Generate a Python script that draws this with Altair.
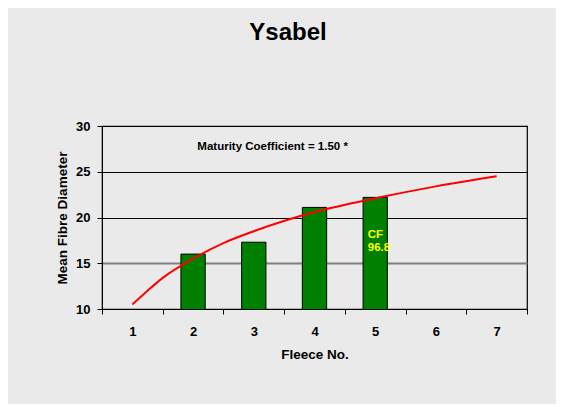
import altair as alt
import pandas as pd

# Data
fleece_all = [1, 2, 3, 4, 5, 6, 7]
bar_fleece = [2, 3, 4, 5]
bar_mfd = [16.0, 17.3, 21.1, 22.2]

curve_x = [1, 1.25, 1.5, 2, 2.5, 3, 4, 5, 6, 7]
curve_y = [10.5, 12.0, 13.4, 15.5, 17.2, 18.5, 20.6, 22.1, 23.4, 24.5]

note_text = ["Maturity Coefficient = 1.50 *"]
note_x = [3.31]
note_y = [27.7]

cf_text = [["CF", "96.8"]]
cf_fleece = [5]
cf_y = [17.8]

y_ticks = [10, 15, 20, 25, 30]

bars_df = pd.DataFrame({"fleece": bar_fleece, "mfd": bar_mfd})
curve_df = pd.DataFrame({"x": curve_x, "y": curve_y})
note_df = pd.DataFrame({"label": note_text, "x": note_x, "y": note_y})
cf_df = pd.DataFrame({"label": cf_text, "fleece": cf_fleece, "y": cf_y})

FONT = "Liberation Sans"
yscale = alt.Scale(domain=[10, 30], nice=False, zero=False)
xband = alt.Scale(domain=fleece_all, paddingInner=0, paddingOuter=0)
xquant = alt.Scale(domain=[0.5, 7.5], nice=False, zero=False)

bars = alt.Chart(bars_df).mark_bar(
    width=alt.RelativeBandSize(0.4), color="#008000", stroke="#000000", strokeWidth=1, clip=True
).encode(
    x=alt.X("fleece:O", scale=xband, title="Fleece No.",
            axis=alt.Axis(labelAngle=0, tickBand="extent", tickSize=5, labelPadding=11,
                          domainColor="#000000", tickColor="#000000",
                          labelFont=FONT, labelFontSize=13, labelFontWeight="bold", labelColor="#000000",
                          titleFont=FONT, titleFontSize=13.5, titleFontWeight="bold", titleColor="#000000",
                          titlePadding=9)),
    y=alt.Y("mfd:Q", scale=yscale, title="Mean Fibre Diameter",
            axis=alt.Axis(values=y_ticks, tickSize=5, labelPadding=7, grid=True,
                          gridColor={"condition": {"test": "datum.value === 15", "value": "#808080"}, "value": "#000000"},
                          gridWidth={"condition": {"test": "datum.value === 15", "value": 2}, "value": 1.2},
                          domainColor="#000000", tickColor="#000000",
                          labelFont=FONT, labelFontSize=13, labelFontWeight="bold", labelColor="#000000",
                          titleFont=FONT, titleFontSize=13.5, titleFontWeight="bold", titleColor="#000000",
                          titlePadding=6)),
)

cf = alt.Chart(cf_df).mark_text(
    align="left", baseline="alphabetic", dx=-7.4, font=FONT, fontSize=11.5, fontWeight="bold",
    color="#ffff00", lineHeight=13
).encode(
    x=alt.X("fleece:O", scale=xband, axis=None),
    y=alt.Y("y:Q", scale=yscale),
    text="label",
)

line = alt.Chart(curve_df).mark_line(color="#ff0000", strokeWidth=2, interpolate="monotone").encode(
    x=alt.X("x:Q", scale=xquant, axis=None),
    y=alt.Y("y:Q", scale=yscale),
)

note = alt.Chart(note_df).mark_text(
    align="center", baseline="middle", font=FONT, fontSize=11.5, fontWeight="bold", color="#000000"
).encode(
    x=alt.X("x:Q", scale=xquant, axis=None),
    y=alt.Y("y:Q", scale=yscale),
    text="label",
)

chart = alt.layer(bars, line, cf, note).resolve_scale(x="independent").properties(
    width=425,
    height=183,
    background="#eaeaea",
    padding={"left": 94, "top": 118, "right": 29, "bottom": 95},
    autosize=alt.AutoSizeParams(type="none"),
    title=alt.Title("Ysabel", font=FONT, fontSize=24, fontWeight="bold", color="#000000",
                    anchor="middle", dx=-26.5, offset=56, baseline="alphabetic"),
).configure_view(stroke="#000000", strokeWidth=1.2)

chart.save("out.html", embed_options={"renderer": "svg", "actions": False})
